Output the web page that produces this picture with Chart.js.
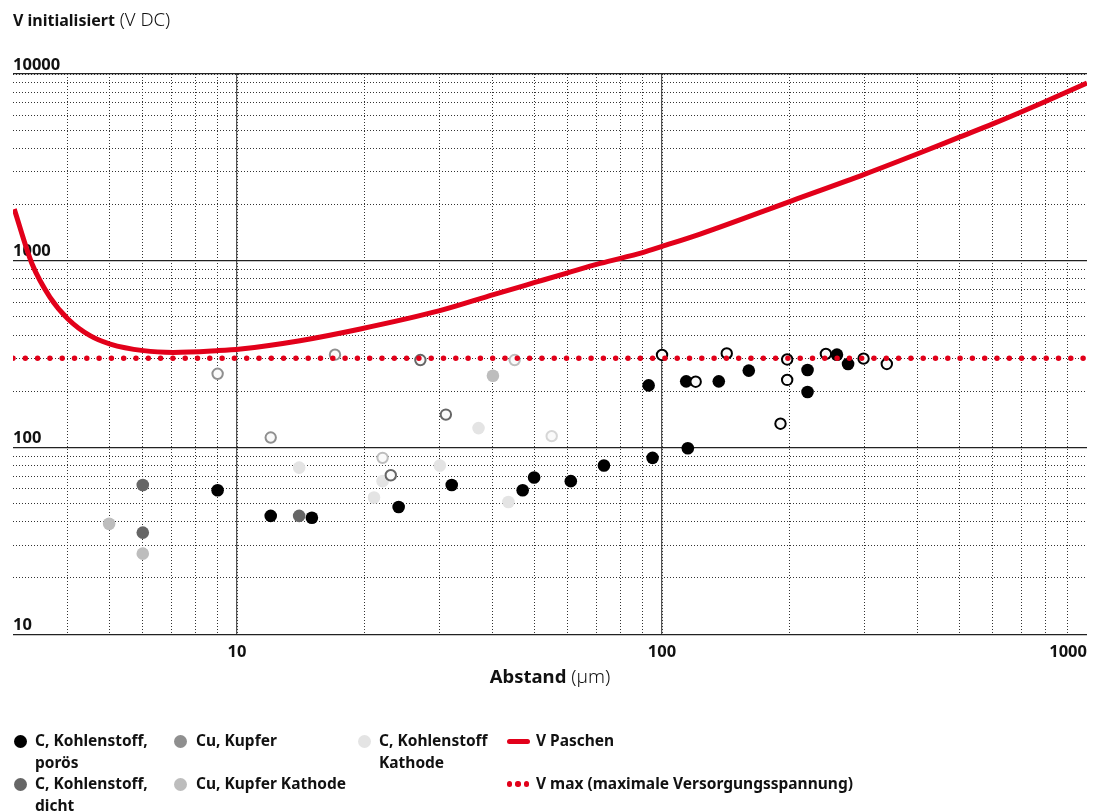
<!DOCTYPE html>
<html>
<head>
<meta charset="utf-8">
<script src="https://cdn.jsdelivr.net/npm/chart.js@4.4.1/dist/chart.umd.min.js"></script>
<style>
  body { margin: 0; background: #fff; }
  #wrap { position: absolute; left: 0; top: 0; width: 1098px; height: 700px; }
  #legend { position: absolute; left: 0; top: 0; width: 1098px; height: 812px; pointer-events: none;
    font-family: "Noto Sans", sans-serif; font-weight: bold; font-size: 15.5px; color: #111; }
  .lg-text { position: absolute; line-height: 21.5px; white-space: nowrap; }
  .lg-mark { position: absolute; }
</style>
</head>
<body>
<div id="wrap"><canvas id="chart"></canvas></div>
<div id="legend"></div>
<script>
// axis ranges and ticks
var xMin = 2.97, xMax = 1000, yMin = 10, yMax = 10000;
var xGridTicks = [4, 5, 6, 7, 8, 9, 10, 20, 30, 40, 50, 60, 70, 80, 90, 100, 200, 300, 400, 500, 600, 700, 800, 900, 1000];
var xMajorTicks = [10, 100];
var xTickLabels = [10, 100, 1000];
var yGridTicks = [10, 20, 30, 40, 50, 60, 70, 80, 90, 100, 200, 300, 400, 500, 600, 700, 800, 900,
  1000, 2000, 3000, 4000, 5000, 6000, 7000, 8000, 9000, 10000];
var yMajorTicks = [10, 100, 1000, 10000];
var yTickLabels = [10, 100, 1000, 10000];

// C, Kohlenstoff, porös
var porosX = [9, 12, 15, 24, 32, 47, 50, 61, 73, 93, 95, 114, 115, 136, 160, 220, 220, 258, 274];
var porosY = [59, 43, 42, 48, 63, 59, 69, 66, 80, 215, 88, 226, 99, 226, 258, 260, 198, 314, 280];
var porosOpenX = [100, 120, 142, 197, 197, 190, 243, 298, 338];
var porosOpenY = [313, 225, 319, 296, 230, 134, 317, 299, 280];
// C, Kohlenstoff, dicht
var dichtX = [6, 6, 14];
var dichtY = [63, 35, 43];
var dichtOpenX = [27, 31, 23];
var dichtOpenY = [294, 150, 71];
// Cu, Kupfer
var kupferOpenX = [9, 12, 17];
var kupferOpenY = [248, 113, 314];
// Cu, Kupfer Kathode
var kupferKatX = [5, 6, 40];
var kupferKatY = [39, 27, 242];
var kupferKatOpenX = [22, 45];
var kupferKatOpenY = [88, 294];
// C, Kohlenstoff Kathode
var kohleKatX = [14, 22, 21, 30, 37, 43.5];
var kohleKatY = [78, 66, 54, 80, 127, 51];
var kohleKatOpenX = [55];
var kohleKatOpenY = [115];
// V Paschen
var paschenX = [2.99, 3.29, 3.63, 4.0, 4.51, 5.03, 6.02, 7.08, 8.96, 10.2, 14.06, 19.5, 30, 40.1, 50.2, 59.7,
  71.5, 90.4, 99.6, 122.9, 201.9, 300.3, 401, 502.6, 602, 803.5, 1000];
var paschenY = [1890, 967, 637, 488, 397, 358, 330, 323, 330, 337, 373, 431, 540, 658, 765, 859,
  967, 1108, 1189, 1389, 2094, 2909, 3750, 4603, 5420, 7172, 8950];
// V max
var vMax = 300;

var RED = '#e2001a';
var C_POROS = '#000000', C_DICHT = '#666666', C_KUPFER = '#8f8f8f', C_KUPFER_KAT = '#bdbdbd', C_KOHLE_KAT = '#e4e4e4';
var FONT = '"Noto Sans", sans-serif';

function pts(xs, ys) {
  return xs.map(function (x, i) { return { x: x, y: ys[i] }; });
}
function filled(label, xs, ys, color) {
  return { label: label, data: pts(xs, ys), backgroundColor: color, borderWidth: 0,
    pointRadius: 6.3, pointHoverRadius: 6.3, order: 2 };
}
function hollow(label, xs, ys, color) {
  return { label: label, data: pts(xs, ys), backgroundColor: '#fafafa', borderColor: color,
    pointBorderColor: color, pointBorderWidth: 2, pointRadius: 5.2, pointHoverRadius: 5.2, order: 1 };
}

var datasets = [
  filled('C, Kohlenstoff, porös', porosX, porosY, C_POROS),
  hollow('C, Kohlenstoff, porös (offen)', porosOpenX, porosOpenY, C_POROS),
  filled('C, Kohlenstoff, dicht', dichtX, dichtY, C_DICHT),
  hollow('C, Kohlenstoff, dicht (offen)', dichtOpenX, dichtOpenY, C_DICHT),
  hollow('Cu, Kupfer', kupferOpenX, kupferOpenY, C_KUPFER),
  filled('Cu, Kupfer Kathode', kupferKatX, kupferKatY, C_KUPFER_KAT),
  hollow('Cu, Kupfer Kathode (offen)', kupferKatOpenX, kupferKatOpenY, C_KUPFER_KAT),
  filled('C, Kohlenstoff Kathode', kohleKatX, kohleKatY, C_KOHLE_KAT),
  hollow('C, Kohlenstoff Kathode (offen)', kohleKatOpenX, kohleKatOpenY, '#d6d6d6'),
  { label: 'V Paschen', data: pts(paschenX, paschenY), showLine: true, borderColor: RED, borderWidth: 5,
    pointRadius: 0, cubicInterpolationMode: 'monotone', order: 0 },
  { label: 'V max (maximale Versorgungsspannung)', data: pts([xMin, xMax], [vMax, vMax]), showLine: true,
    borderColor: RED, borderWidth: 5.5, borderDash: [0, 12.3], borderCapStyle: 'round', pointRadius: 0, order: 0 }
];

function setTicks(list) {
  return function (scale) { scale.ticks = list.map(function (v) { return { value: v }; }); };
}

// axis titles with mixed weights
var titlePlugin = {
  id: 'mixedTitles',
  afterDraw: function (chart) {
    var ctx = chart.ctx, area = chart.chartArea;
    ctx.save();
    ctx.fillStyle = '#111';
    ctx.textBaseline = 'middle';
    function parts(list, x, y, center) {
      var total = 0;
      list.forEach(function (p) { ctx.font = p[1]; total += ctx.measureText(p[0]).width; });
      var cx = center ? x - total / 2 : x;
      list.forEach(function (p) {
        ctx.font = p[1];
        ctx.fillText(p[0], cx, y);
        cx += ctx.measureText(p[0]).width;
      });
    }
    parts([['V initialisiert', 'bold 16px ' + FONT], [' (V DC)', '300 18.5px ' + FONT]], 13, 21, false);
    parts([['Abstand', 'bold 18.5px ' + FONT], [' (\u00b5m)', '300 19px ' + FONT]], (area.left + area.right) / 2, 678, true);
    ctx.restore();
  }
};

new Chart(document.getElementById('chart'), {
  type: 'scatter',
  data: { datasets: datasets },
  options: {
    responsive: true,
    maintainAspectRatio: false,
    animation: false,
    events: [],
    layout: { padding: { left: 13, right: 11, top: 74, bottom: 30 } },
    plugins: { legend: { display: false }, tooltip: { enabled: false } },
    scales: {
      x: {
        type: 'logarithmic', min: xMin, max: xMax,
        afterBuildTicks: setTicks(xGridTicks),
        border: { display: false, dash: [1, 2] },
        grid: { drawTicks: false, lineWidth: 1,
          color: function (c) { return c.tick && c.tick.value >= xMax ? 'rgba(0,0,0,0)' : '#333'; } },
        ticks: { autoSkip: false, maxRotation: 0, padding: 8, align: 'inner', color: '#111',
          font: { family: FONT, size: 16.5, weight: 'bold' },
          callback: function (v) { return xTickLabels.indexOf(v) >= 0 ? String(v) : ''; } }
      },
      x2: {
        type: 'logarithmic', position: 'bottom', min: xMin, max: xMax,
        afterBuildTicks: setTicks(xMajorTicks),
        border: { display: false },
        grid: { drawTicks: false, color: '#555', lineWidth: 1.2 },
        ticks: { display: false }
      },
      y: {
        type: 'logarithmic', min: yMin, max: yMax,
        afterBuildTicks: setTicks(yGridTicks),
        border: { display: false, dash: [1, 2] },
        grid: { drawTicks: false, color: '#333', lineWidth: 1 },
        ticks: { autoSkip: false, mirror: true, padding: 0, labelOffset: -9, color: '#111',
          font: { family: FONT, size: 16.5, weight: 'bold' },
          callback: function (v) { return yTickLabels.indexOf(v) >= 0 ? String(v) : ''; } }
      },
      y2: {
        type: 'logarithmic', position: 'left', min: yMin, max: yMax,
        afterBuildTicks: setTicks(yMajorTicks),
        border: { display: false },
        grid: { drawTicks: false, color: '#222', lineWidth: 1.2 },
        ticks: { display: false }
      }
    }
  },
  plugins: [titlePlugin]
});

// HTML legend (text wraps like the original)
var legendItems = [
  { text: 'C, Kohlenstoff,<br>porös', mark: 'dot', color: C_POROS, mx: 20, tx: 35, y: 741 },
  { text: 'C, Kohlenstoff,<br>dicht', mark: 'dot', color: C_DICHT, mx: 20, tx: 35, y: 784 },
  { text: 'Cu, Kupfer', mark: 'dot', color: C_KUPFER, mx: 180, tx: 196, y: 741 },
  { text: 'Cu, Kupfer Kathode', mark: 'dot', color: C_KUPFER_KAT, mx: 180, tx: 196, y: 784 },
  { text: 'C, Kohlenstoff<br>Kathode', mark: 'dot', color: C_KOHLE_KAT, mx: 364, tx: 379, y: 741 },
  { text: 'V Paschen', mark: 'line', color: RED, mx: 518, tx: 536, y: 741 },
  { text: 'V max (maximale Versorgungsspannung)', mark: 'dots', color: RED, mx: 518, tx: 536, y: 784 }
];
var lg = document.getElementById('legend');
legendItems.forEach(function (it) {
  var t = document.createElement('div');
  t.className = 'lg-text';
  t.style.left = it.tx + 'px';
  t.style.top = (it.y - 11) + 'px';
  t.innerHTML = it.text;
  lg.appendChild(t);
  if (it.mark === 'dot') {
    var d = document.createElement('div');
    d.className = 'lg-mark';
    d.style.cssText += 'left:' + (it.mx - 6.5) + 'px;top:' + (it.y - 6.5) + 'px;width:13px;height:13px;border-radius:50%;background:' + it.color;
    lg.appendChild(d);
  } else if (it.mark === 'line') {
    var l = document.createElement('div');
    l.className = 'lg-mark';
    l.style.cssText += 'left:' + (it.mx - 11.5) + 'px;top:' + (it.y - 2.5) + 'px;width:23px;height:5px;border-radius:3px;background:' + it.color;
    lg.appendChild(l);
  } else {
    [-8.5, 0, 8.5].forEach(function (dx) {
      var s = document.createElement('div');
      s.className = 'lg-mark';
      s.style.cssText += 'left:' + (it.mx + dx - 2.7) + 'px;top:' + (it.y - 2.7) + 'px;width:5.4px;height:5.4px;border-radius:50%;background:' + it.color;
      lg.appendChild(s);
    });
  }
});
</script>
</body>
</html>
